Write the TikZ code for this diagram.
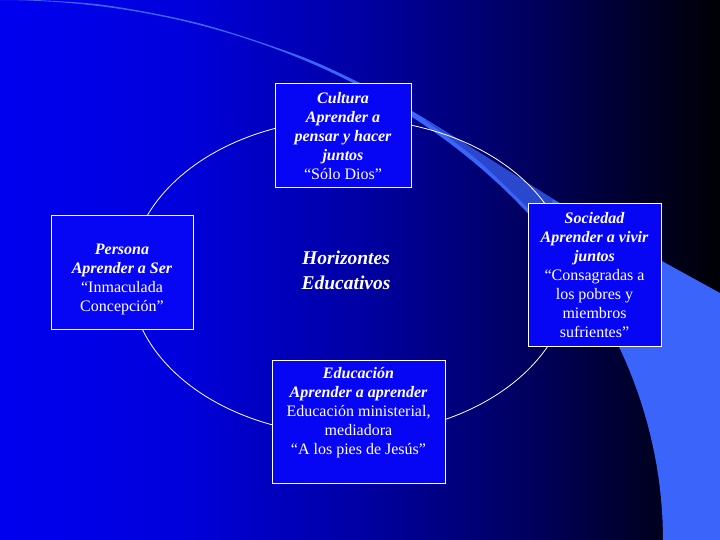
\documentclass[tikz,border=0pt]{standalone}
\usepackage{fontspec}
\setmainfont{Liberation Serif}
\pgfdeclarehorizontalshading{bgshade}{100bp}{rgb(0bp)=(0,0,0.94); rgb(25bp)=(0,0,0.94); rgb(37.5bp)=(0,0,0.86); rgb(50bp)=(0,0,0.64); rgb(62.5bp)=(0,0,0.35); rgb(70bp)=(0,0,0.14); rgb(75bp)=(0,0,0.02); rgb(100bp)=(0,0,0.02)}
\definecolor{boxblue}{RGB}{6,6,245}
\definecolor{swlight}{RGB}{58,100,250}
\definecolor{swmid}{RGB}{42,72,205}
\newcommand\ttl[1]{{\bfseries\itshape #1}}
\tikzset{
  boxnode/.style={draw=white, line width=1pt, fill=boxblue, inner sep=0pt},
  txtnode/.style={text=white, align=center, inner sep=0pt, font=\fontsize{16}{19}\selectfont},
  bigtxt/.style={text=white, align=center, inner sep=0pt, font=\fontsize{19.5}{25}\selectfont},
  ringline/.style={draw=white, line width=0.8pt}
}
\begin{document}
\begin{tikzpicture}[x=1pt,y=-1pt]
\useasboundingbox (0,0) rectangle (720,540);
% background
\shade[shading=bgshade] (0,0) rectangle (720,540);
% light swoosh
\fill[swlight] plot[domain=90:0, samples=80] ({663*cos(\x)}, {540-540*sin(\x)})
  -- (720,540) -- (720,293)
  -- plot[smooth] coordinates {(720,293) (660,260) (620,238) (553,199) (480,153) (412,111) (360,83) (300,56) (200,23.5) (100,4.5) (0,-1.5)}
  -- cycle;
% medium part of swoosh
\fill[swmid] plot[smooth] coordinates {(425,119.5) (480,153) (553,199)}
  -- (548,215)
  -- plot[smooth] coordinates {(528,208) (480,162) (440,131) (425,120.5)} -- cycle;
% ring
\coordinate (ringc) at (350,277);
\draw[ringline] (ringc) ellipse [x radius=220, y radius=158];
% boxes
\node[boxnode, minimum width=136pt, minimum height=104pt] (cultura) at (343,136) {};
\node[boxnode, minimum width=142pt, minimum height=113pt] (persona) at (122,272.5) {};
\node[boxnode, minimum width=133pt, minimum height=142pt] (sociedad) at (594.5,275) {};
\node[boxnode, minimum width=173pt, minimum height=123pt] (educacion) at (358.5,421.5) {};
% texts
\node[txtnode] (tcultura) at (343,136) {\ttl{Cultura}\\\ttl{Aprender a}\\\ttl{pensar y hacer}\\\ttl{juntos}\\“Sólo Dios”};
\node[txtnode] (tpersona) at (122,279) {\ttl{Persona}\\\ttl{Aprender a Ser}\\“Inmaculada\\Concepción”};
\node[txtnode] (tsociedad) at (594.5,275) {\ttl{Sociedad}\\\ttl{Aprender a vivir}\\\ttl{juntos}\\“Consagradas a\\los pobres y\\miembros\\sufrientes”};
\node[txtnode] (teducacion) at (358.5,413) {\ttl{Educación}\\\ttl{Aprender a aprender}\\Educación ministerial,\\mediadora\\“A los pies de Jesús”};
\node[bigtxt] (horiz) at (346,270.5) {\ttl{Horizontes}\\\ttl{Educativos}};
\end{tikzpicture}
\end{document}
